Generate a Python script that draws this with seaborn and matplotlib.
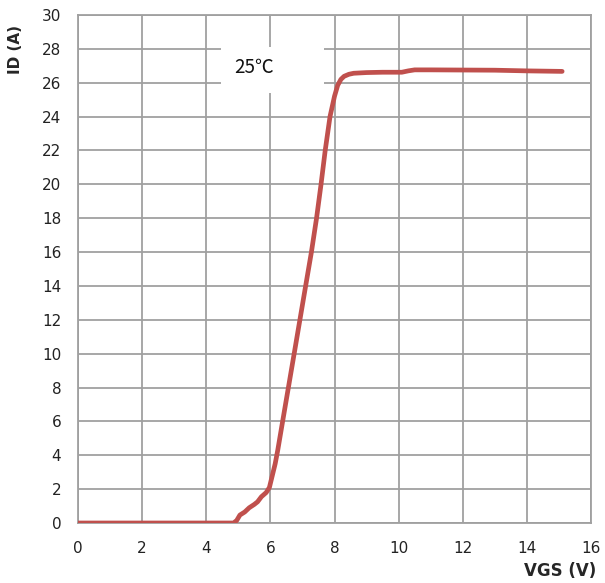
import matplotlib
matplotlib.use("Agg")
import matplotlib.pyplot as plt
from matplotlib.patches import Rectangle
import seaborn as sns
import pandas as pd

vgs = [0, 1, 2, 3, 4, 4.85, 4.95, 5.05, 5.2, 5.34, 5.5, 5.6, 5.72, 5.87, 5.97, 6.06, 6.15, 6.23, 6.4,
       6.58, 6.76, 6.93, 7.1, 7.28, 7.44, 7.58, 7.71, 7.86, 8.0, 8.1, 8.2, 8.3, 8.45, 8.6, 9.0,
       9.5, 10.1, 10.3, 10.5, 11, 12, 13, 14, 15.1]
id_a = [0, 0, 0, 0, 0, 0, 0.15, 0.47, 0.65, 0.9, 1.1, 1.25, 1.55, 1.8, 2.1, 2.8, 3.5, 4.3, 6.2,
        8.2, 10.2, 12.1, 14.0, 16.0, 18.0, 20.0, 22.0, 24.0, 25.2, 25.85, 26.2, 26.38, 26.5, 26.56, 26.6,
        26.62, 26.62, 26.7, 26.76, 26.76, 26.75, 26.74, 26.7, 26.67]

xticks = list(range(0, 17, 2))
yticks = list(range(0, 31, 2))

df = pd.DataFrame({"VGS": vgs, "ID": id_a})

sns.set_style("white")
fig = plt.figure(figsize=(6.05, 5.83), dpi=100)
ax = fig.add_axes([78/605, 1-523/583, (591-78)/605, (523-15)/583])

ax.grid(True, color="#a0a0a0", linewidth=1.3)
ax.set_axisbelow(True)
sns.lineplot(data=df, x="VGS", y="ID", ax=ax, color="#c0504d", linewidth=3.4, zorder=3)

ax.set_xlim(0, 16)
ax.set_ylim(0, 30)
ax.set_xticks(xticks)
ax.set_yticks(yticks)
ax.tick_params(axis="y", length=0, labelsize=11, colors="#222222", pad=12)
ax.tick_params(axis="x", length=0, labelsize=11, colors="#222222", pad=13)
for s in ax.spines.values():
    s.set_color("#a0a0a0")
    s.set_linewidth(1.3)

ax.set_xlabel("")
ax.set_ylabel("")
fig.text(15/605, 1-50/583, "ID (A)", rotation=90, ha="center", va="center",
         fontsize=11, fontweight="bold")
fig.text(560/605, 1-571/583, "VGS (V)", ha="center", va="center",
         fontsize=12, fontweight="bold")

ax.add_patch(Rectangle((4.47, 25.4), 3.2, 2.7, facecolor="white", edgecolor="none", zorder=2))
ax.text(5.5, 26.9, "25℃", ha="center", va="center", fontsize=13.5, color="#111111",
        family=["Noto Sans CJK SC", "DejaVu Sans"], zorder=2.5)

fig.savefig("out.png", dpi=100)
